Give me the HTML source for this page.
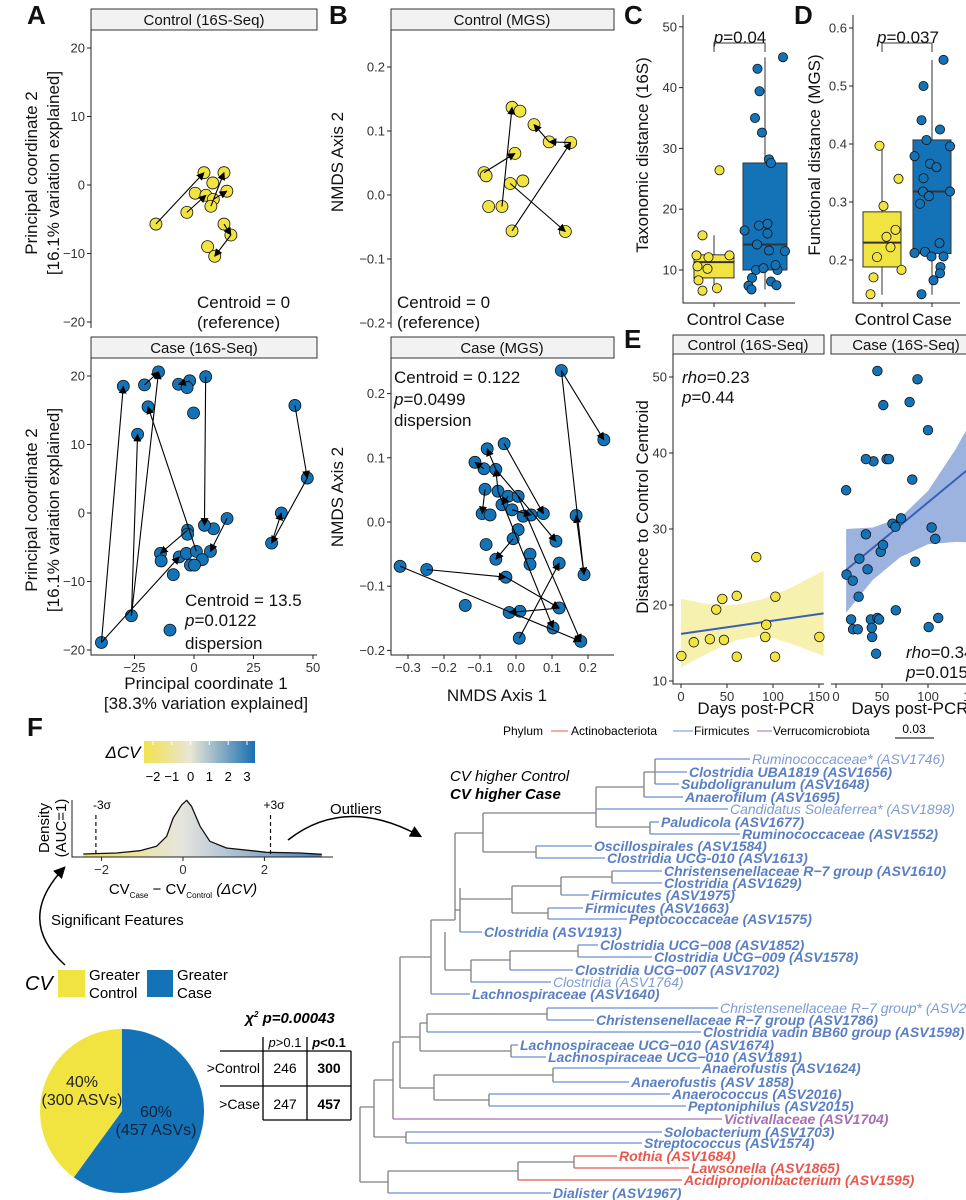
<!DOCTYPE html>
<html><head><meta charset="utf-8"><style>
body{margin:0;background:#fff}
svg{display:block;font-family:"Liberation Sans",sans-serif}
.tk{font-size:13px;fill:#333}
.ti{font-size:17px;fill:#111}
.st{font-size:15px;fill:#111}
.pl{font-size:26px;font-weight:bold;fill:#111}
</style></head><body>
<svg id="fig" width="966" height="1200" viewBox="0 0 966 1200">
<defs>
<marker id="ah" viewBox="0 0 10 10" refX="9" refY="5" markerWidth="8" markerHeight="8" markerUnits="userSpaceOnUse" orient="auto"><path d="M0,0L10,5L0,10z" fill="#000"/></marker>
<marker id="ah2" viewBox="0 0 10 10" refX="8" refY="5" markerWidth="12" markerHeight="12" markerUnits="userSpaceOnUse" orient="auto"><path d="M0,0L10,5L0,10z" fill="#000"/></marker>
<linearGradient id="cvg" x1="0" x2="1" y1="0" y2="0"><stop offset="0" stop-color="#f3e14f"/><stop offset="0.42" stop-color="#e9e6d6"/><stop offset="1" stop-color="#1a6fb2"/></linearGradient>
<linearGradient id="dg" gradientUnits="userSpaceOnUse" x1="72" x2="333" y1="0" y2="0"><stop offset="0" stop-color="#f3e14f"/><stop offset="0.42" stop-color="#e6e5de"/><stop offset="1" stop-color="#3f7bbd"/></linearGradient>
</defs>
<rect width="966" height="1200" fill="#fff"/>
<text class="pl" x="27" y="24">A</text>
<text class="pl" x="329" y="24">B</text>
<text class="pl" x="624" y="24">C</text>
<text class="pl" x="794" y="24">D</text>
<text class="pl" x="624" y="348">E</text>
<text class="pl" x="27" y="736">F</text>
<g fill="#f2f2f2" stroke="#333" stroke-width="1">
<rect x="91" y="9" width="226" height="21"/>
<rect x="391" y="9" width="223" height="21"/>
<rect x="91" y="337" width="226" height="21"/>
<rect x="391" y="337" width="223" height="21"/>
<rect x="673" y="335" width="151" height="19"/>
<rect x="831" y="335" width="150" height="19"/>
</g>
<text class="st" x="204" y="25" text-anchor="middle">Control (16S-Seq)</text>
<text class="st" x="502" y="25" text-anchor="middle">Control (MGS)</text>
<text class="st" x="204" y="353" text-anchor="middle">Case (16S-Seq)</text>
<text class="st" x="502" y="353" text-anchor="middle">Case (MGS)</text>
<text class="st" x="748" y="350" text-anchor="middle">Control (16S-Seq)</text>
<text class="st" x="906" y="350" text-anchor="middle">Case (16S-Seq)</text>
<g stroke="#222" stroke-width="1" fill="none">
<path d="M91 30V328"/>
<path d="M91 358V655H317"/>
<path d="M391 30V328"/>
<path d="M391 358V655H614"/>
<path d="M683 15V303H795"/>
<path d="M853 15V303H960"/>
<path d="M673 354V684H824"/>
<path d="M831 684H966"/>
</g>
<text class="ti" transform="translate(37,173) rotate(-90)" text-anchor="middle">Principal coordinate 2</text>
<text class="ti" transform="translate(59,173) rotate(-90)" text-anchor="middle">[16.1% variation explained]</text>
<text class="ti" transform="translate(37,510) rotate(-90)" text-anchor="middle">Principal coordinate 2</text>
<text class="ti" transform="translate(59,510) rotate(-90)" text-anchor="middle">[16.1% variation explained]</text>
<text class="ti" x="206" y="689" text-anchor="middle">Principal coordinate 1</text>
<text class="ti" x="206" y="709" text-anchor="middle">[38.3% variation explained]</text>
<text class="ti" transform="translate(343,162) rotate(-90)" text-anchor="middle">NMDS Axis 2</text>
<text class="ti" transform="translate(343,497) rotate(-90)" text-anchor="middle">NMDS Axis 2</text>
<text class="ti" x="497" y="701" text-anchor="middle">NMDS Axis 1</text>
<text class="ti" transform="translate(648,155) rotate(-90)" text-anchor="middle">Taxonomic distance (16S)</text>
<text class="ti" transform="translate(820,155) rotate(-90)" text-anchor="middle">Functional distance (MGS)</text>
<text class="ti" transform="translate(648,507) rotate(-90)" text-anchor="middle">Distance to Control Centroid</text>
<text class="ti" x="756" y="714" text-anchor="middle">Days post-PCR</text>
<text class="ti" x="910" y="714" text-anchor="middle">Days post-PCR</text>
<text class="ti" x="714" y="325" text-anchor="middle">Control</text>
<text class="ti" x="765" y="325" text-anchor="middle">Case</text>
<text class="ti" x="882" y="325" text-anchor="middle">Control</text>
<text class="ti" x="932" y="325" text-anchor="middle">Case</text>
<g class="ti">
<text x="197" y="308">Centroid = 0</text>
<text x="197" y="328">(reference)</text>
<text x="397" y="308">Centroid = 0</text>
<text x="397" y="328">(reference)</text>
<text x="185" y="606">Centroid = 13.5</text>
<text x="185" y="626"><tspan font-style="italic">p</tspan>=0.0122</text>
<text x="185" y="649">dispersion</text>
<text x="394" y="383">Centroid = 0.122</text>
<text x="394" y="405"><tspan font-style="italic">p</tspan>=0.0499</text>
<text x="394" y="426">dispersion</text>
<text x="740" y="43" text-anchor="middle"><tspan font-style="italic">p</tspan>=0.04</text>
<text x="908" y="43" text-anchor="middle"><tspan font-style="italic">p</tspan>=0.037</text>
<text x="682" y="383"><tspan font-style="italic">rho</tspan>=0.23</text>
<text x="682" y="403"><tspan font-style="italic">p</tspan>=0.44</text>
<text x="906" y="658"><tspan font-style="italic">rho</tspan>=0.34</text>
<text x="906" y="678"><tspan font-style="italic">p</tspan>=0.015</text>
</g>
<path d="M714 52V43H765V52" fill="none" stroke="#333"/>
<path d="M882 52V43H932V52" fill="none" stroke="#333"/>
<text x="123" y="758" font-size="17" font-style="italic" text-anchor="middle">ΔCV</text>
<rect x="144" y="741" width="111" height="22" fill="url(#cvg)"/>
<text x="102" y="809" font-size="12" text-anchor="middle">-3σ</text>
<text x="274" y="809" font-size="12" text-anchor="middle">+3σ</text>
<text transform="translate(49,828) rotate(-90)" font-size="15" text-anchor="middle">Density</text>
<text transform="translate(66,828) rotate(-90)" font-size="15" text-anchor="middle">(AUC=1)</text>
<text x="183" y="894" font-size="15" text-anchor="middle">CV<tspan font-size="8" dy="4">Case</tspan><tspan dy="-4"> − CV</tspan><tspan font-size="8" dy="4">Control</tspan><tspan dy="-4" font-style="italic"> (ΔCV)</tspan></text>
<text x="330" y="814" font-size="15">Outliers</text>
<path d="M288 840Q345 795 420 836" fill="none" stroke="#000" stroke-width="1.5" marker-end="url(#ah2)"/>
<text x="51" y="925" font-size="15">Significant Features</text>
<path d="M65 965Q15 920 64 868" fill="none" stroke="#000" stroke-width="1.5" marker-end="url(#ah2)"/>
<text x="25" y="990" font-size="20" font-style="italic">CV</text>
<rect x="58" y="970" width="27" height="27" fill="#f2e440"/>
<text x="89" y="980" font-size="15">Greater</text>
<text x="89" y="998" font-size="15">Control</text>
<rect x="147" y="970" width="26" height="27" fill="#1473b6"/>
<text x="177" y="980" font-size="15">Greater</text>
<text x="177" y="998" font-size="15">Case</text>
<text x="290" y="1023" font-size="15" font-weight="bold" font-style="italic" text-anchor="middle">χ<tspan font-size="8" dy="-6">2</tspan><tspan dy="6"> p=0.00043</tspan></text>
<g stroke="#000" stroke-width="1.3" fill="none">
<path d="M220 1051H351M220 1086H351M263 1120H351M263 1037V1120M307 1037V1120M351 1051V1120"/>
</g>
<g font-size="14" text-anchor="middle">
<text x="285" y="1047" font-size="13"><tspan font-style="italic">p</tspan>&gt;0.1</text>
<text x="329" y="1047" font-size="13" font-weight="bold"><tspan font-style="italic">p</tspan>&lt;0.1</text>
<text x="260" y="1073" text-anchor="end">&gt;Control</text>
<text x="260" y="1109" text-anchor="end">&gt;Case</text>
<text x="285" y="1073">246</text>
<text x="329" y="1073" font-weight="bold">300</text>
<text x="285" y="1109">247</text>
<text x="329" y="1109" font-weight="bold">457</text>
</g>
<g font-size="12">
<text x="503" y="735">Phylum</text>
<line x1="551" x2="568" y1="731" y2="731" stroke="#e8584f"/>
<text x="571" y="735">Actinobacteriota</text>
<line x1="673" x2="693" y1="731" y2="731" stroke="#6a8fd0"/>
<text x="694" y="735">Firmicutes</text>
<line x1="757" x2="772" y1="731" y2="731" stroke="#a66fb5"/>
<text x="773" y="735">Verrucomicrobiota</text>
<text x="914" y="733" text-anchor="middle">0.03</text>
<line x1="895" x2="934" y1="738" y2="738" stroke="#000"/>
</g>
<text x="450" y="781" font-size="15" font-style="italic">CV higher Control</text>
<text x="450" y="799" font-size="15" font-style="italic" font-weight="bold">CV higher Case</text>
<g id="marks"></g>
</svg>
<script>
const aTopX=[-16.0,-3.0,0.5,4.2,7.9,12.6,13.8,5.0,8.1,7.1,12.6,15.5,5.7,8.7];
const aTopY=[-5.7,-4.0,-1.2,1.8,0.3,1.8,-0.9,-1.5,-2.1,-3.1,-5.7,-7.3,-9.0,-10.4];
const aTopArrows=[[0,3],[1,7],[9,5],[8,6],[10,11],[11,13]];
const aBotX=[-29.7,-20.8,-14.9,-6.5,-1.8,-2.9,4.9,-0.2,-19.3,-23.7,42.4,47.6,36.7,32.6,13.9,8.2,4.4,-2.7,-2.7,-14.1,-13.8,-6.2,-3.2,1.0,6.9,3.5,-1.5,0.2,-8.7,-26.3,-38.9,-10.1];
const aBotY=[18.5,18.7,20.6,18.8,19.3,18.3,19.9,14.6,15.5,11.5,15.7,5.1,0.0,-4.4,-0.8,-2.3,-1.8,-2.5,-3.1,-5.9,-7.0,-6.4,-5.9,-5.6,-5.6,-6.8,-7.6,-7.6,-9.0,-15.0,-18.9,-17.1];
const aBotArrows=[[30,0],[29,9],[29,2],[30,21],[23,8],[1,2],[4,3],[6,16],[10,11],[11,13],[13,12],[14,24],[17,19]];
const aXTicks=[-25,0,25,50];
const aYTicks=[-20,-10,0,10,20];
const bTopX=[-0.011,0.011,0.05,0.092,0.152,-0.003,-0.089,-0.083,-0.016,0.019,-0.076,-0.039,-0.011,0.137];
const bTopY=[0.137,0.131,0.110,0.083,0.082,0.065,0.035,0.030,0.018,0.022,-0.018,-0.018,-0.056,-0.057];
const bTopArrows=[[6,5],[11,0],[3,2],[4,3],[12,4],[8,13]];
const bBotX=[0.126,0.244,-0.033,-0.08,-0.114,-0.089,-0.056,-0.086,-0.05,-0.022,0.006,-0.039,-0.011,-0.094,-0.072,0.02,0.042,0.076,0.167,0.006,-0.008,0.111,-0.083,0.039,-0.056,0.12,0.039,-0.322,-0.248,0.189,-0.028,-0.141,0.12,-0.019,0.011,0.103,0.18,0.009];
const bBotY=[0.236,0.128,0.122,0.114,0.093,0.083,0.082,0.051,0.048,0.04,0.04,0.027,0.019,0.013,0.011,0.009,0.011,0.013,0.01,-0.012,-0.026,-0.03,-0.035,-0.05,-0.058,-0.064,-0.066,-0.069,-0.074,-0.082,-0.086,-0.13,-0.134,-0.141,-0.139,-0.165,-0.186,-0.181];
const bBotArrows=[[0,1],[0,29],[29,18],[27,36],[28,30],[30,32],[2,17],[6,3],[5,4],[7,13],[8,6],[9,11],[12,16],[6,21],[20,24],[32,33],[37,25],[8,35],[10,36]];
const bXTicks=[-0.3,-0.2,-0.1,0,0.1,0.2];
const bYTicks=[-0.2,-0.1,0,0.1,0.2];
const cCats=['Control','Case'];
const cBoxCtrl=[6.6,8.7,11.3,12.5,15.7];
const cBoxCase=[6.8,10.0,14.2,27.6,45.0];
const cCtrlVals=[26.4,15.7,12.4,10.6,12.1,10.2,8.3,6.6,7.0,12.4];
const cCtrlJit=[0.11,-0.23,-0.35,-0.33,-0.11,-0.13,-0.31,-0.23,0.06,0.31];
const cCaseVals=[45,43.1,39.4,35,32.6,28.2,27.6,16.5,17.3,17.6,16.0,13.2,14.2,13.1,10.0,10.3,10.0,10.8,8.7,8.1,7.5,7.4,6.8];
const cCaseJit=[0.36,-0.15,-0.11,-0.2,-0.06,0.08,0.12,-0.41,-0.12,0.05,0.05,0.08,-0.16,0.4,-0.18,-0.03,0.25,0.21,-0.26,0.12,0.23,-0.33,-0.27];
const cTicks=[10,20,30,40,50];
const dBoxCtrl=[0.14,0.188,0.23,0.283,0.397];
const dBoxCase=[0.14,0.211,0.318,0.407,0.545];
const dCtrlVals=[0.397,0.34,0.293,0.252,0.24,0.222,0.205,0.183,0.17,0.141];
const dCtrlJit=[-0.05,0.33,0.03,0.27,0.09,0.17,-0.1,0.39,-0.17,-0.23];
const dCaseVals=[0.545,0.5,0.441,0.425,0.407,0.379,0.396,0.366,0.36,0.341,0.318,0.318,0.31,0.297,0.229,0.212,0.214,0.206,0.206,0.188,0.177,0.165,0.141];
const dCaseJit=[0.23,-0.17,-0.21,0.16,-0.11,-0.35,0.36,-0.04,0.09,-0.17,-0.18,0.36,-0.06,-0.24,0.15,-0.35,-0.14,-0.01,0.23,0.17,0.16,0.03,-0.21];
const dTicks=[0.2,0.3,0.4,0.5,0.6];
const eCtrlDays=[0.4,13.9,31.4,38.3,44.9,46.7,60.6,60.6,81.8,91.6,92.7,102.6,102.2,150.4];
const eCtrlVals=[13.3,15.1,15.5,19.4,20.8,15.4,21.2,13.2,26.3,15.8,17.4,21.1,13.2,15.8];
const eCtrlBandDays=[0,30,60,90,120,155];
const eCtrlUpper=[20.8,20.1,20.0,20.8,22.3,24.5];
const eCtrlLower=[11.8,13.7,15.4,16.0,14.9,13.3];
const eCtrlFitDays=[0,155];
const eCtrlFit=[16.2,18.9];
const eCaseDays=[11,11.4,16.4,18.2,18.6,23.6,24.6,25.4,32.5,34.3,37.9,39.3,38.9,40.7,32.5,45,46.8,43.6,48.6,51.1,45,51.4,55,57.5,61.4,64.6,65,70.7,80,82.9,86.1,88.6,100,100.7,103.9,107.9,111.1];
const eCaseVals=[35.1,24.0,18.1,23.2,16.8,16.8,21.1,26.1,29.3,24.7,18.1,15.8,17.0,38.9,39.2,18.3,18.1,13.6,27.0,27.9,50.8,46.3,39.2,39.2,30.7,30.3,19.3,31.4,46.7,36.5,25.7,49.7,43.0,17.1,30.2,28.7,18.3];
const eCaseBandDays=[11,40,70,100,130,160];
const eCaseUpper=[30.0,30.2,31.5,35,40.5,47];
const eCaseLower=[19.0,23.3,26.3,28.0,28.3,28.2];
const eCaseFitDays=[11,160];
const eCaseFit=[24.6,39.5];
const eYTicks=[10,20,30,40,50];
const eXTicksL=[0,50,100,150];
const eXTicksR=[0,50,100,150];
const densX=[-2.45,-1.63,-1.06,-0.65,-0.40,-0.24,-0.03,0.09,0.21,0.42,0.66,1.07,2.05,2.87,3.41];
const densY=[0.03,0.04,0.063,0.107,0.207,0.39,0.523,0.567,0.507,0.307,0.157,0.09,0.047,0.04,0.027];
const densTicks=[-2,0,2];
const sigmaLines=[-2.14,2.15];
const cbTicks=[-2,-1,0,1,2,3];
const pieShares=[60,40];
const pieLabels=[['60%','(457 ASVs)'],['40%','(300 ASVs)']];
const treeLabels=[
['Ruminococcaceae* (ASV1746)',759,752,655,'L'],['Clostridia UBA1819 (ASV1656)',772,689,655,'B'],['Subdoligranulum (ASV1648)',784,681,655,'B'],['Anaerofilum (ASV1695)',797,685,644,'B'],['Candidatus Soleaferrea* (ASV1898)',809,730,596,'L'],['Paludicola (ASV1677)',822,661,650,'B'],['Ruminococcaceae (ASV1552)',834,742,650,'B'],['Oscillospirales (ASV1584)',846,594,536,'B'],['Clostridia UCG-010 (ASV1613)',858,607,536,'B'],['Christensenellaceae R−7 group (ASV1610)',871,664,612,'B'],['Clostridia (ASV1629)',883,664,612,'B'],['Firmicutes (ASV1975)',895,591,561,'B'],['Firmicutes (ASV1663)',908,585,548,'B'],['Peptococcaceae (ASV1575)',919,629,548,'B'],['Clostridia (ASV1913)',932,484,460,'B'],
['Clostridia UCG−008 (ASV1852)',945,600,578,'B'],['Clostridia UCG−009 (ASV1578)',957,654,578,'B'],['Clostridia UCG−007 (ASV1702)',970,575,510,'B'],['Clostridia (ASV1764)',982,553,471,'L'],['Lachnospiraceae (ASV1640)',994,472,431,'B'],['Christensenellaceae R−7 group* (ASV2055)',1008,720,547,'L'],['Christensenellaceae R−7 group (ASV1786)',1020,596,547,'B'],['Clostridia vadin BB60 group (ASV1598)',1032,703,427,'B'],['Lachnospiraceae UCG−010 (ASV1674)',1045,520,511,'B'],['Lachnospiraceae UCG−010 (ASV1891)',1057,548,511,'B'],['Anaerofustis (ASV1624)',1068,702,553,'B'],['Anaerofustis (ASV 1858)',1082,631,553,'B'],['Anaerococcus (ASV2016)',1094,672,489,'B'],['Peptoniphilus (ASV2015)',1106,688,489,'B'],['Victivallaceae (ASV1704)',1119,724,393,'P'],['Solobacterium (ASV1703)',1132,664,406,'B'],['Streptococcus (ASV1574)',1143,644,406,'B'],['Rothia (ASV1684)',1156,619,574,'R'],['Lawsonella (ASV1865)',1168,691,574,'R'],['Acidipropionibacterium (ASV1595)',1180,684,518,'R'],['Dialister (ASV1967)',1193,553,388,'B']];
const treeInternal="M655 759V784M644 772H655M644 772V797M596 787H644M596 787V809M596 827H650M650 822V834M596 809V827M483 813H596M483 813V852M483 852H536M536 846V858M455 833H483M455 833V920M455 910H460M460 888V932M460 899H512M512 886V913M512 886H561M561 877V895M561 877H612M612 871V883M512 913H548M548 908V919M431 920H455M431 920V994M578 945V957M510 951H578M510 951V970M471 960H510M471 960V982M445 970H471M445 932V970M400 957H431M400 957V1088M547 1008V1020M427 1014H547M427 1014V1032M420 1023H427M420 1023V1051M420 1051H511M511 1045V1057M400 1037H420M553 1068V1082M434 1075H553M434 1075V1100M434 1100H489M489 1094V1106M400 1088H434M393 1042H400M393 1042V1119M374 1080H393M374 1080V1137M374 1137H406M406 1132V1143M360 1107H374M360 1107V1182M360 1182H388M388 1171V1193M388 1171H518M518 1162V1180M518 1162H574M574 1156V1168";

const NS='http://www.w3.org/2000/svg';
const root=document.getElementById('marks');
function mk(tag,attrs,parent){const e=document.createElementNS(NS,tag);for(const k in attrs)e.setAttribute(k,attrs[k]);(parent||root).appendChild(e);return e;}
const YEL='#f2e440',BLU='#1473b6';
const axX=v=>194+2.38*v, ayT=v=>185-6.85*v, ayB=v=>513-6.85*v;
const bxX=v=>516+360*v, byT=v=>195-640*v, byB=v=>522-642*v;
const cY=v=>270-(v-10)*6.08, cX=[714,765];
const dY=v=>260-(v-0.2)*580, dX=[882,932];
const eY=v=>681-(v-10)*7.6, eXL=d=>681+0.92*d, eXR=d=>836+0.92*d;
const fX=v=>183+40.7*v, fY=d=>857-d*100;

function yTicks(ticks,sx,fy,x,fmt,name){ticks.forEach(t=>{
  const l=mk('line',{x1:x-4,x2:x,y1:fy(t),y2:fy(t),stroke:'#222'});
  
  
  const tx=mk('text',{x:x-6,y:fy(t)+4.5,'text-anchor':'end',class:'tk'});
  tx.textContent=fmt(t);
  
  
});}
function xTicks(ticks,fx,y,fmt,name){ticks.forEach(t=>{
  const l=mk('line',{x1:fx(t),x2:fx(t),y1:y,y2:y+4,stroke:'#222'});
  
  
  const tx=mk('text',{x:fx(t),y:y+17,'text-anchor':'middle',class:'tk'});
  tx.textContent=fmt(t);
  
  
});}
const m=s=>String(s).replace('-','−');
const f1=t=>m(t===0?'0.0':t.toFixed(1));

yTicks(aYTicks,0,ayT,91,t=>m(t),'a-top-y');
yTicks(aYTicks,0,ayB,91,t=>m(t),'a-bottom-y');
xTicks(aXTicks,axX,655,t=>m(t),'a-x');
yTicks(bYTicks,0,byT,391,f1,'b-top-y');
yTicks(bYTicks,0,byB,391,f1,'b-bottom-y');
xTicks(bXTicks,bxX,655,f1,'b-x');
yTicks(cTicks,0,cY,683,t=>String(t),'c-y');
xTicks([0,1],i=>cX[i],303,()=>'','c-x');
yTicks(dTicks,0,dY,853,t=>t.toFixed(1),'d-y');
xTicks([0,1],i=>dX[i],303,()=>'','d-x');
yTicks(eYTicks,0,eY,673,t=>String(t),'e-y');
xTicks(eXTicksL,eXL,684,t=>String(t),'e-left-x');
xTicks(eXTicksR,eXR,684,t=>String(t),'e-right-x');

function scatter(xs,ys,fx,fy,fill,r,name){xs.forEach((x,i)=>{
  const c=mk('circle',{cx:fx(x),cy:fy(ys[i]),r:r,fill:fill,stroke:'#111','stroke-width':0.8});
  
  
});}
function arrows(pairs,xs,ys,fx,fy,name){pairs.forEach(p=>{
  const a=p[0],b=p[1];
  const l=mk('line',{x1:fx(xs[a]),y1:fy(ys[a]),x2:fx(xs[b]),y2:fy(ys[b]),stroke:'#000','stroke-width':1.1,'marker-end':'url(#ah)'});
  
  
});}
scatter(aTopX,aTopY,axX,ayT,YEL,6,'a-control-point');
arrows(aTopArrows,aTopX,aTopY,axX,ayT,'a-control-arrow');
scatter(aBotX,aBotY,axX,ayB,BLU,6,'a-case-point');
arrows(aBotArrows,aBotX,aBotY,axX,ayB,'a-case-arrow');
scatter(bTopX,bTopY,bxX,byT,YEL,6,'b-control-point');
arrows(bTopArrows,bTopX,bTopY,bxX,byT,'b-control-arrow');
scatter(bBotX,bBotY,bxX,byB,BLU,6,'b-case-point');
arrows(bBotArrows,bBotX,bBotY,bxX,byB,'b-case-arrow');

function box(st,cx,hw,fy,fill,name){
  const w=mk('line',{x1:cx,x2:cx,y1:fy(st[0]),y2:fy(st[4]),stroke:'#555','stroke-width':1.2});
  
  
  const r=mk('rect',{x:cx-hw,y:fy(st[3]),width:2*hw,height:fy(st[1])-fy(st[3]),fill:fill,stroke:'#333'});
  
  
  const md=mk('line',{x1:cx-hw,x2:cx+hw,y1:fy(st[2]),y2:fy(st[2]),stroke:'#333','stroke-width':2});
  
  
}
function jitter(vals,jit,cx,fy,fill,name){vals.forEach((v,i)=>{
  const c=mk('circle',{cx:cx+jit[i]*50,cy:fy(v),r:4.6,fill:fill,stroke:'#111','stroke-width':0.8});
  
  
});}
box(cBoxCtrl,cX[0],20,cY,YEL,'c-control');
box(cBoxCase,cX[1],22,cY,BLU,'c-case');
jitter(cCtrlVals,cCtrlJit,cX[0],cY,YEL,'c-control-point');
jitter(cCaseVals,cCaseJit,cX[1],cY,BLU,'c-case-point');
box(dBoxCtrl,dX[0],19,dY,YEL,'d-control');
box(dBoxCase,dX[1],19,dY,BLU,'d-case');
jitter(dCtrlVals,dCtrlJit,dX[0],dY,YEL,'d-control-point');
jitter(dCaseVals,dCaseJit,dX[1],dY,BLU,'d-case-point');

function band(days,up,lo,fx,fill,name){
  let d='M'+days.map((x,i)=>fx(x)+' '+eY(up[i])).join('L');
  for(let i=days.length-1;i>=0;i--)d+='L'+fx(days[i])+' '+eY(lo[i]);
  const p=mk('path',{d:d+'Z',fill:fill,stroke:'none'});
  
  
}
band(eCtrlBandDays,eCtrlUpper,eCtrlLower,eXL,'#f6f1ae','e-control-ci-band');
band(eCaseBandDays,eCaseUpper,eCaseLower,eXR,'#9bb3de','e-case-ci-band');
const fl1=mk('line',{x1:eXL(eCtrlFitDays[0]),y1:eY(eCtrlFit[0]),x2:eXL(eCtrlFitDays[1]),y2:eY(eCtrlFit[1]),stroke:'#3a5fb5','stroke-width':2});


const fl2=mk('line',{x1:eXR(eCaseFitDays[0]),y1:eY(eCaseFit[0]),x2:eXR(eCaseFitDays[1]),y2:eY(eCaseFit[1]),stroke:'#3a5fb5','stroke-width':2});


scatter(eCtrlDays,eCtrlVals,eXL,eY,YEL,4.8,'e-control-point');
scatter(eCaseDays,eCaseVals,eXR,eY,BLU,4.8,'e-case-point');

cbTicks.forEach(t=>{
  const x=153+(t+2)*18.8;
  const l=mk('line',{x1:x,x2:x,y1:741,y2:745,stroke:'#fff'});
  
  
  const tx=mk('text',{x:x,y:781,'text-anchor':'middle','font-size':13});
  tx.textContent=m(t);
  
  
});
let dd='M'+fX(densX[0])+' '+fY(0);
densX.forEach((x,i)=>{dd+='L'+fX(x).toFixed(1)+' '+fY(densY[i]).toFixed(1);});
dd+='L'+fX(densX[densX.length-1])+' '+fY(0)+'Z';
const dfill=mk('path',{d:dd,fill:'url(#dg)',stroke:'none'});


const dline=mk('polyline',{points:densX.map((x,i)=>fX(x).toFixed(1)+','+fY(densY[i]).toFixed(1)).join(' '),fill:'none',stroke:'#111','stroke-width':1.3,'stroke-linejoin':'round'});


const dax=mk('path',{d:'M72 800V857H333',fill:'none',stroke:'#222'});


xTicks(densTicks,fX,857,t=>m(t),'density-x');
sigmaLines.forEach(s=>{
  const l=mk('line',{x1:fX(s),x2:fX(s),y1:815,y2:857,stroke:'#111','stroke-dasharray':'4,3','stroke-width':1.2});
  
  
});
const pcx=122,pcy=1111,pr=82;let ang=0;
const pieLabelPos=[[156,1117],[82,1087]];
pieShares.forEach((s,i)=>{
  const a0=ang,a1=ang+s/100*2*Math.PI;ang=a1;
  const p0=[pcx+pr*Math.sin(a0),pcy-pr*Math.cos(a0)],p1=[pcx+pr*Math.sin(a1),pcy-pr*Math.cos(a1)];
  const pth=mk('path',{d:`M${pcx} ${pcy}L${p0[0]} ${p0[1]}A${pr} ${pr} 0 ${s>50?1:0} 1 ${p1[0]} ${p1[1]}Z`,fill:i===0?BLU:YEL});
  
  
  const lx=pieLabelPos[i][0], ly=pieLabelPos[i][1];
  const t1=mk('text',{x:lx,y:ly,'text-anchor':'middle','font-size':16,fill:i===0?'#0d2240':'#222'});
  t1.textContent=pieLabels[i][0];
  
  
  const t2=mk('text',{x:lx,y:ly+18,'text-anchor':'middle','font-size':16,fill:i===0?'#0d2240':'#222'});
  t2.textContent=pieLabels[i][1];
  
  
});
const ti=mk('path',{d:treeInternal,fill:'none',stroke:'#808080','stroke-width':1.3});


const COL={B:'#5a7fc4',L:'#7c9bd6',P:'#a66fb5',R:'#e8584f'};
const LCOL={B:'#6a8fd0',L:'#6a8fd0',P:'#a66fb5',R:'#e8584f'};
treeLabels.forEach(t=>{
  const [lab,y,x,px,k]=t;
  const l=mk('line',{x1:px,x2:x-2,y1:y,y2:y,stroke:LCOL[k],'stroke-width':1.3});
  
  
  const tx=mk('text',{x:x,y:y+5,'font-size':14,'font-style':'italic','font-weight':k==='L'?'normal':'bold',fill:COL[k]});
  tx.textContent=lab;
  
  
});
</script>
</body></html>
